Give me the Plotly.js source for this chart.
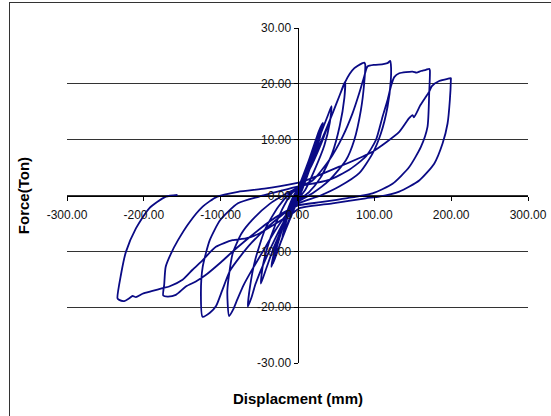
<!DOCTYPE html>
<html>
<head>
<meta charset="utf-8">
<script src="https://cdn.plot.ly/plotly-3.0.1.min.js"></script>
<style>
  html, body { margin:0; padding:0; background:#fff; overflow:hidden; width:551px; height:416px; }
  #chart { position:absolute; left:0; top:0; width:551px; height:416px; }
  #frame { position:absolute; left:9px; top:2px; width:700px; height:700px; border:1px solid #333; pointer-events:none; }
</style>
</head>
<body>
<div id="chart"></div>
<div id="frame"></div>
<script>
// Displacement (mm) and force (Ton), in loading order
const dispMm = [
  0,
  5, 10, 8, 3, -5, -10, -8, -3, 0,
  10, 20, 17, 8, 0, -10, -20, -17, -8, 0,
  15, 25, 31, 27, 15, 5, 0, -15, -25, -32, -28, -15, -5, 0,
  15, 28, 33, 29, 17, 6, 0, -15, -28, -34, -30, -17, -6, 0,
  15, 30, 40, 44.3, 42, 35, 22, 10, 0, -15, -30, -40, -47.7, -45, -35, -20, -8, 0,
  15, 30, 45, 55, 60, 62, 61, 55, 45, 30, 15, 0, -15, -30, -45, -55, -60, -64.7, -62, -55, -42, -25, -10, 0,
  15, 30, 45, 55, 62, 68, 74, 78, 84.6, 86.8, 88.1, 86.8, 82.5, 73.8, 63, 41.2, 19.6, 0,
  -15, -30, -45, -60, -70, -78, -84, -89, -91.3, -84.4, -72.9, -59.2, -36.2, -15, 0,
  19.5, 41.2, 58.6, 71.6, 80.3, 86.8, 91.1, 100, 110, 117, 120.7, 121.5, 121.5, 117.2, 108.5, 97.6, 80.3, 54.3, 30, 0,
  -20, -40, -60, -75, -88, -98, -106, -114, -123.6, -125.7, -123.4, -114.2, -100.5, -77.5, -50, -20, 0,
  41.2, 67.3, 89, 102, 110.7, 117.2, 121.5, 125.9, 132.4, 149.7, 155, 160.6, 167.1, 171.4, 172.3, 171.4, 169.2, 160.6, 145.4, 123.7, 97.6, 62.9, 30, 0,
  -20, -40, -60, -80, -100, -120, -132.3, -145.3, -158.3, -169.2, -174.8, -173.5, -171.6, -164.7, -155.5, -141.7, -123.4, -105.1, -77.5, -40.8, 0,
  6.5, 54.3, 97.6, 132.4, 145, 149.7, 151.5, 160, 171.4, 174.9, 184.4, 195.3, 199.6, 199.6, 198.3, 195.3, 188.8, 177.9, 158.4, 132.4, 106.4, 89, 45.6, 2.2,
  -6.5, -28.2, -49.8, -67.2, -84.6, -106.2, -123.6, -136.6, -149.6, -167, -175.7, -188.7, -201.7, -210.3, -214.7, -219, -225.5, -232.1, -234.3,
  -229.8, -223.3, -210.3, -193, -171.3, -156.2
];
const forceTon = [
  0,
  2.0, 4.0, 3.0, 1.0, -1.8, -3.8, -2.8, -0.6, 0.5,
  4.2, 7.8, 6.2, 2.4, -0.4, -4.2, -7.6, -5.8, -1.8, 0.9,
  6.0, 10.0, 12.5, 10.0, 5.0, 1.0, -0.6, -5.8, -9.6, -12.3, -9.8, -4.0, -0.2, 1.1,
  6.4, 11.6, 13.0, 10.3, 5.2, 1.0, -0.9, -6.0, -10.6, -12.8, -10.0, -4.2, -0.3, 1.2,
  5.5, 11.0, 14.5, 16.0, 13.0, 9.0, 4.5, 1.0, -0.8, -4.5, -9.0, -12.8, -15.8, -12.5, -7.5, -2.5, 0.3, 1.3,
  5.0, 9.5, 14.5, 18.0, 19.8, 20.4, 17.5, 12.5, 7.5, 3.2, 0.6, -1.0, -4.0, -8.0, -12.5, -16.0, -18.3, -19.9, -16.5, -11.5, -6.0, -2.0, 0.4, 1.5,
  4.5, 9.0, 14.5, 18.0, 20.3, 21.8, 22.8, 23.2, 23.7, 23.8, 23.5, 20.1, 15.3, 9.9, 6.3, 2.7, 0.4, -1.2,
  -3.5, -6.5, -10.0, -13.5, -16.0, -18.5, -20.5, -21.6, -17.0, -10.4, -6.8, -4.4, -1.5, 0.3, 1.4,
  2.7, 6.3, 10.5, 14.7, 18.3, 21.3, 23.1, 23.4, 23.5, 23.7, 24.1, 23.5, 20.7, 15.9, 11.1, 7.5, 4.0, 1.6, 0.0, -1.5,
  -3.5, -5.8, -8.5, -11.0, -13.5, -17.0, -19.8, -21.0, -21.7, -17.6, -12.8, -8.0, -4.4, -1.4, -0.2, 0.9, 1.6,
  2.8, 4.6, 7.0, 9.9, 14.1, 17.1, 19.5, 21.2, 21.9, 22.2, 22.0, 22.3, 22.5, 22.7, 22.4, 18.3, 12.3, 8.7, 5.1, 2.1, 0.4, -0.5, -1.2, -1.8,
  -3.2, -5.0, -7.2, -9.5, -12.0, -14.3, -15.4, -16.3, -17.8, -18.1, -17.9, -16.0, -12.8, -10.4, -8.0, -5.0, -2.0, -0.24, 0.66, 1.26, 2.27,
  2.47, 5.16, 7.85, 11.4, 13.8, 14.4, 14.0, 16.2, 18.6, 19.6, 20.5, 20.9, 21.0, 20.7, 17.1, 12.9, 9.3, 5.7, 2.7, 0.7, -0.2, -0.5, -1.4, -2.3,
  -3.2, -5.0, -6.8, -7.7, -8.0, -9.2, -11.6, -13.3, -15.1, -16.3, -16.6, -17.1, -17.6, -18.2, -18.0, -18.4, -18.9, -18.7, -18.4,
  -14.2, -10.1, -5.9, -2.3, -0.21, 0.09
];
const xTickVals = [-300, -200, -100, 0, 100, 200, 300];
const xTickText = ["-300.00", "-200.00", "-100.00", "0.00", "100.00", "200.00", "300.00"];
const yTickVals = [-30, -20, -10, 0, 10, 20, 30];
const yTickText = ["-30.00", "-20.00", "-10.00", "0.00", "10.00", "20.00", "30.00"];
const xTitle = "Displacment (mm)";
const yTitle = "Force(Ton)";

const trace = {
  x: dispMm, y: forceTon, type: 'scatter', mode: 'lines',
  line: { color: '#0a0a85', width: 1.8, shape: 'spline', smoothing: 0.6 },
  hoverinfo: 'skip', showlegend: false
};

const layout = {
  width: 551, height: 416,
  margin: { l: 67, r: 23, t: 28, b: 53, pad: 0 },
  paper_bgcolor: '#ffffff', plot_bgcolor: '#ffffff',
  font: { family: 'Liberation Sans, Arial, sans-serif', size: 12, color: '#000' },
  showlegend: false,
  xaxis: {
    range: [-300, 300], anchor: 'free', position: 0.5,
    showline: true, linecolor: '#000', linewidth: 1,
    ticks: 'outside', ticklen: 4, tickcolor: '#000', tickwidth: 1,
    tickmode: 'array', tickvals: xTickVals, ticktext: xTickText,
    ticklabelstandoff: 4,
    showgrid: false, zeroline: false,
    tickfont: { family: 'Liberation Sans, Arial, sans-serif', size: 12, color: '#111' },
    fixedrange: true
  },
  yaxis: {
    range: [-30, 30], anchor: 'free', position: 0.5,
    showline: true, linecolor: '#000', linewidth: 1,
    ticks: 'outside', ticklen: 4, tickcolor: '#000', tickwidth: 1,
    tickmode: 'array', tickvals: yTickVals, ticktext: yTickText,
    showgrid: true, gridcolor: '#333', gridwidth: 1.2, zeroline: false,
    tickfont: { family: 'Liberation Sans, Arial, sans-serif', size: 12, color: '#111' },
    fixedrange: true
  },
  annotations: [
    { text: '<b>' + xTitle + '</b>', xref: 'paper', yref: 'paper', x: 0.5, y: -0.105,
      xanchor: 'center', yanchor: 'middle', showarrow: false,
      font: { family: 'Liberation Sans, Arial, sans-serif', size: 15, color: '#000' } },
    { text: '<b>' + yTitle + '</b>', xref: 'paper', yref: 'paper', x: -0.094, y: 0.5,
      xanchor: 'center', yanchor: 'middle', showarrow: false, textangle: -90,
      font: { family: 'Liberation Sans, Arial, sans-serif', size: 15, color: '#000' } }
  ]
};

Plotly.newPlot('chart', [trace], layout, { staticPlot: true, displayModeBar: false });
</script>
</body>
</html>
